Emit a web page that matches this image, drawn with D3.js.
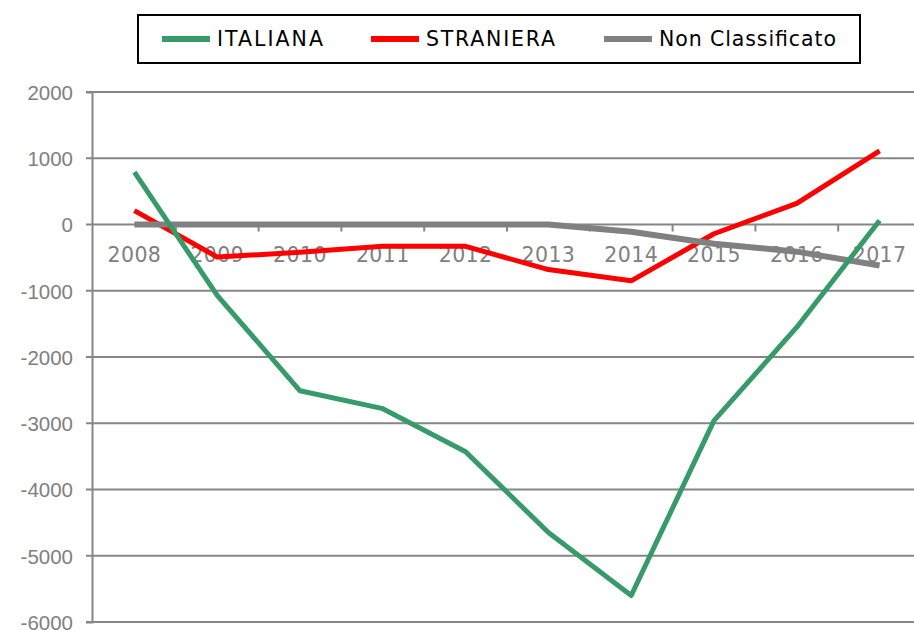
<!DOCTYPE html>
<html>
<head>
<meta charset="utf-8">
<script src="https://cdn.jsdelivr.net/npm/d3@7"></script>
<style>
  body { margin: 0; background: #fff; }
  svg { display: block; font-family: "DejaVu Sans", Verdana, sans-serif; }
</style>
</head>
<body>
<svg id="chart" width="914" height="630"></svg>
<script>
const years = ['2008', '2009', '2010', '2011', '2012', '2013', '2014', '2015', '2016', '2017']
const italiana = [790, -1070, -2510, -2780, -3430, -4650, -5600, -2960, -1550, 60]
const straniera = [210, -490, -420, -330, -330, -680, -850, -140, 320, 1110]
const nonClassificato = [0, 0, 0, 0, 0, 0, -110, -290, -410, -620]
const yTicks = [2000, 1000, 0, -1000, -2000, -3000, -4000, -5000, -6000]

const series = [
    { name: 'ITALIANA', values: italiana, color: '#379a69' },
    { name: 'STRANIERA', values: straniera, color: '#ff0000' },
    { name: 'Non Classificato', values: nonClassificato, color: '#808080' }
]
// draw order seen in the picture: red, then gray, then green on top
const drawOrder = [1, 2, 0]

const svg = d3.select('#chart')
const W = +svg.attr('width')
const axisColor = '#868686'
const textColor = '#808080'

const x = d3.scaleBand().domain(years).range([93, 921])
const y = d3.scaleLinear().domain([-6000, 2000]).range([622, 92])

// gridlines
svg.append('g')
  .selectAll('line')
  .data(yTicks)
  .join('line')
    .attr('x1', 86)
    .attr('x2', W)
    .attr('y1', d => y(d))
    .attr('y2', d => y(d))
    .attr('stroke', axisColor)
    .attr('stroke-width', 2)

// y axis
const yAxis = svg.append('g')
    .attr('transform', `translate(92,0)`)
    .call(d3.axisLeft(y).tickValues(yTicks).tickFormat(d => String(d)).tickSize(6).tickPadding(13))
yAxis.select('.domain').attr('stroke', axisColor).attr('stroke-width', 2)
yAxis.selectAll('.tick line').remove()
yAxis.selectAll('text')
    .attr('fill', textColor)
    .style('font-size', '20.5px')
    .attr('dy', '0.36em')

// x axis on the zero line, ticks between categories
const xAxis = svg.append('g')
    .attr('transform', `translate(0,${y(0)})`)
xAxis.selectAll('line')
  .data(years.slice(1))
  .join('line')
    .attr('x1', d => x(d))
    .attr('x2', d => x(d))
    .attr('y1', 0)
    .attr('y2', 7)
    .attr('stroke', axisColor)
    .attr('stroke-width', 2)
xAxis.selectAll('text')
  .data(years)
  .join('text')
    .attr('x', d => x(d) + x.bandwidth() / 2)
    .attr('y', 37)
    .attr('text-anchor', 'middle')
    .attr('fill', textColor)
    .style('font-size', '20.5px')
    .style('letter-spacing', '0.4px')
    .text(d => d)

// lines
const line = d3.line()
    .x((d, i) => x(years[i]) + x.bandwidth() / 2)
    .y(d => y(d))

svg.append('g')
  .selectAll('path')
  .data(drawOrder.map(i => series[i]))
  .join('path')
    .attr('d', d => line(d.values))
    .attr('fill', 'none')
    .attr('stroke', d => d.color)
    .attr('stroke-width', d => d.name === 'Non Classificato' ? 6 : 5)
    .attr('stroke-linejoin', 'round')

// legend
const legend = svg.append('g')
legend.append('rect')
    .attr('x', 138)
    .attr('y', 15)
    .attr('width', 722)
    .attr('height', 48)
    .attr('fill', '#fff')
    .attr('stroke', '#000')
    .attr('stroke-width', 2)

const legendX = [162, 371, 604]
const legendTextW = [106, 129, 177] // Verdana-like widths
const item = legend.selectAll('g.item')
  .data(series)
  .join('g')
    .attr('class', 'item')
    .attr('transform', (d, i) => `translate(${legendX[i]},39)`)
item.append('line')
    .attr('x1', 0)
    .attr('x2', 48)
    .attr('stroke', d => d.color)
    .attr('stroke-width', 6)
item.append('text')
    .attr('x', 55)
    .attr('dy', '0.36em')
    .attr('fill', '#000')
    .attr('textLength', (d, i) => legendTextW[i])
    .attr('lengthAdjust', 'spacing')
    .style('font-size', '20.5px')
    .text(d => d.name)
</script>
</body>
</html>
